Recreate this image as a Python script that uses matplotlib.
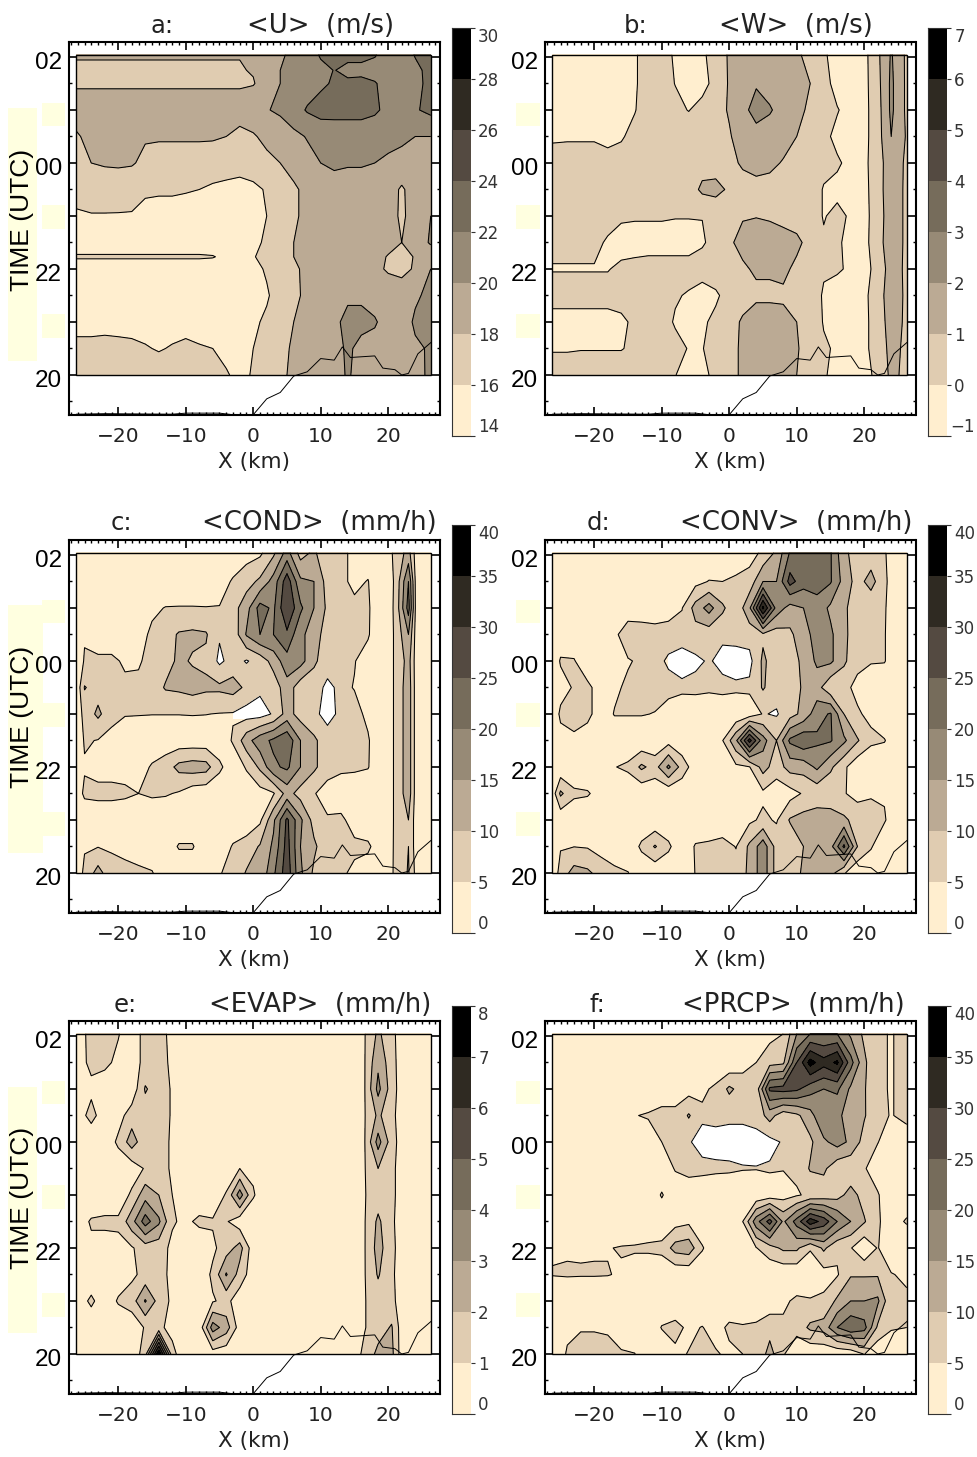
import numpy as np
import matplotlib
matplotlib.use("Agg")
import matplotlib.pyplot as plt
from matplotlib.colors import ListedColormap
from matplotlib.patches import Rectangle
from matplotlib.transforms import ScaledTranslation

W, H = 977, 1457

# hours after 20 UTC, top row first
T_STD = [6.04, 5.5, 5, 4.5, 4, 3.5, 3, 2.5, 2, 1.5, 1, 0.5, 0]
T_A = [6.04, 5.75, 5.5, 5, 4.5, 4, 3.5, 3, 2.5, 2.23, 2, 1.5, 1, 0.5, 0]
X_EVEN = [-26.2, -24, -22, -20, -18, -16, -14, -12, -10, -8, -6, -4, -2, 0, 2, 4, 6, 8, 10, 12, 14, 16, 18, 20, 22, 24, 26.3]
X_ODD = [-26.2, -25, -23, -21, -19, -17, -15, -13, -11, -9, -7, -5, -3, -1, 1, 3, 5, 7, 9, 11, 13, 15, 17, 19, 21, 23, 25, 26.3]
X_COND = [-26.2, -25, -23, -21, -19, -17, -15, -13, -11, -9, -7, -5, -3, -1, 1, 3, 5, 7, 9, 11, 13, 15, 17, 19, 21, 23, 24.2, 26.3]
X_EVAP = [-26.2, -24, -22, -20, -18, -16, -14, -12, -10, -8, -6, -4, -2, 0, 2, 4, 6, 8, 10, 12, 14, 16.5, 18.5, 20.5, 22, 24, 26.3]

TERRAIN_X = [-26.2, -22, -12, -10, -5, -3, 0, 2, 4, 6, 8, 10, 12, 13.2, 14.4, 18, 19.2, 21, 22, 23, 24.4, 26.3]
TERRAIN_T = [-0.74, -0.73, -0.74, -0.72, -0.72, -0.75, -0.75, -0.45, -0.33, -0.02, 0.06, 0.31, 0.28, 0.53, 0.33, 0.36, 0.13, 0.1, 0.0, 0.03, 0.4, 0.61]

U_DATA = [
    [18.05, 18.05, 18.05, 18.05, 18.05, 18.05, 18.05, 18.05, 18.05, 18.05, 18.05, 18.05, 18.05, 18.05, 19, 19.7, 20.5, 21, 22.2, 22.4, 22.4, 22.3, 22.1, 21.5, 21, 22.1, 22.6],
    [17.9, 17.9, 17.9, 17.9, 17.9, 17.9, 17.9, 17.9, 17.9, 17.9, 17.9, 17.9, 17.9, 18.1, 18.8, 20, 20.6, 21.2, 21.5, 22.05, 21.6, 21.7, 21.5, 21.3, 21, 21.6, 22.5],
    [17.8, 17.8, 17.8, 17.8, 17.8, 17.8, 17.8, 17.8, 17.8, 17.8, 17.8, 17.8, 17.8, 17.9, 18.7, 20, 20.5, 21, 21.7, 22.2, 22.3, 22.3, 22.1, 21.5, 21, 21.5, 22.5],
    [18.8, 18.8, 18.8, 18.8, 18.8, 18.8, 18.8, 18.8, 18.8, 18.8, 18.8, 18.8, 18.8, 19.2, 19.9, 20.3, 21, 22.2, 22.7, 22.7, 22.7, 22.7, 22.3, 21.5, 21, 21.8, 22.5],
    [17.8, 18.5, 18.6, 18.6, 18.6, 18.2, 18.2, 18.2, 18.2, 18.2, 18.2, 18, 17.5, 17.8, 18.5, 19, 19.6, 20.1, 20.7, 20.8, 20.8, 20.8, 20.8, 20.7, 20.3, 20, 20],
    [17.5, 18, 18.2, 18.3, 18.2, 17.5, 17.2, 17.2, 17.2, 17.2, 17, 16.9, 16.8, 17.2, 17.5, 18, 18.7, 19.5, 20, 20.4, 20.2, 20.2, 20, 19.6, 19.5, 19.7, 19.5],
    [16.8, 16.8, 16.8, 16.7, 16.5, 16.3, 16.2, 16.2, 16.1, 16, 15.7, 15.5, 15.3, 15.5, 16.2, 17, 17.7, 18.5, 19, 19, 19, 19, 19, 19, 17.7, 19, 19.8],
    [15.7, 15.9, 15.9, 15.9, 15.9, 15.4, 15.4, 15.4, 15.4, 15.4, 15.4, 15.4, 15.3, 15.5, 16, 17, 17.7, 18.5, 19, 19, 19, 19, 19, 19, 17.6, 19, 20],
    [15, 15, 15, 15, 15, 15, 15, 15, 15, 15, 15, 15, 15, 15.7, 16.2, 17, 18, 18.5, 18.6, 18.6, 18.6, 18.6, 18.6, 18.5, 18, 19, 20.2],
    [16.2, 16.2, 16.2, 16.2, 16.2, 16.2, 16.2, 16.2, 16.2, 16.2, 16.1, 15.6, 15.4, 15.9, 16.5, 17.2, 18, 18.6, 18.6, 18.6, 18.6, 18.6, 18.5, 17.9, 17.5, 18.1, 19],
    [15, 15, 15, 15, 15, 15, 15, 15, 15, 15, 15, 15, 15, 15.5, 16.2, 17, 17.7, 18.4, 18.4, 18.4, 18.4, 18.4, 18.4, 17.8, 17.5, 18.2, 20],
    [15, 15, 15, 15, 15, 15, 15, 15, 15, 15, 15, 15, 15, 15.5, 15.8, 16.8, 17.7, 18.3, 18.6, 19, 19.7, 19.7, 19.2, 19, 19, 19.7, 20.5],
    [15.5, 15.5, 15.5, 15.5, 15.5, 15.5, 15.5, 15.5, 15.5, 15.5, 15.5, 15.5, 15.5, 15.7, 16.3, 17.2, 18, 18.6, 19, 19.6, 20.5, 20.5, 20.2, 19.2, 19, 20.3, 20.7],
    [16.4, 16.4, 16.5, 16.4, 16.3, 16.1, 15.9, 16.1, 16.3, 16.1, 16, 15.7, 15.5, 16, 16.7, 17.6, 18.2, 18.5, 18.8, 19.3, 20.3, 19.5, 19.3, 19, 19, 19.7, 20.2],
    [16.7, 16.7, 16.7, 16.7, 16.7, 16.7, 16.7, 16.7, 16.7, 16.7, 16.6, 16.1, 15.7, 16.1, 17, 17.8, 18.2, 18.3, 18.5, 18.8, 20.3, 19, 18.5, 18.2, 18.2, 19.5, 20.3],
]

W_DATA = [
    [-.5, -.5, -.5, -.5, -.5, -.5, -.1, .4, .3, -.1, -.5, -.2, .5, 1.1, 1.3, 1.5, 1.5, 1.5, 1.2, .6, .1, -.3, -.5, -.3, .8, 2.1, .8],
    [-.5, -.5, -.5, -.5, -.5, -.5, -.1, .4, .3, -.02, -.5, -.3, .3, 1.1, 1.3, 1.9, 1.6, 1.5, 1.2, 1, .3, -.3, -.3, -.3, .7, 2.2, .8],
    [-.5, -.5, -.5, -.5, -.5, -.2, -.05, .5, .4, .2, -.03, .3, .6, 1.1, 1.7, 2.4, 2.1, 1.6, 1.3, .8, .2, .05, -.3, -.3, .6, 2.2, .8],
    [-.1, -.1, -.1, -.1, -.3, -.1, .3, .5, .5, .5, .5, .9, .6, .9, 1.5, 1.6, 1.5, 1.5, 1, .7, .2, -.2, -.3, -.3, .6, 2, .9],
    [.3, .4, .4, .4, .4, .4, .4, .5, .5, .5, .5, .6, .7, .8, 1.1, 1.5, 1.3, .9, .6, .5, .2, .1, -.2, -.2, .5, 1.7, .8],
    [.5, .5, .5, .5, .5, .5, .5, .5, .5, .5, .5, 1.2, 1.2, .9, .7, .5, .5, .5, .5, .4, -.05, -.2, -.2, -.3, .6, 1.6, .8],
    [.4, .4, .4, .4, .3, .15, .1, .1, .1, .05, .05, .02, .5, .9, .95, .97, .9, .7, .6, .4, -.05, .2, -.1, -.3, .5, 1.6, .8],
    [.2, .2, .2, .2, -.1, -.4, -.4, -.4, -.4, -.4, -.4, -.1, .3, .9, 1.2, 1.4, 1.4, 1.4, 1.2, .7, .1, .05, -.1, -.3, .6, 1.6, .8],
    [-.05, -.05, -.05, -.05, -.05, .2, .3, .4, .4, .4, .4, .4, .7, .8, .9, 1.1, 1.1, 1.2, .8, .5, .1, .08, -.1, -.3, .3, 1.5, .8],
    [.4, .4, .4, .4, .4, .4, .5, .5, .4, .1, -.1, -.4, -.2, .5, .7, .85, .85, .85, .8, .5, -.1, -.3, -.4, -.2, .5, 1.6, .8],
    [-.4, -.4, -.4, -.4, -.4, -.2, .2, .5, .4, -.1, -.4, -.2, .3, .7, 1.1, 1.4, 1.4, 1.3, 1, .5, -.05, -.3, -.3, -.2, .4, 1.5, .8],
    [-.1, -.1, -.05, -.05, -.05, -.05, .2, .5, .5, .3, -.05, -.05, .5, .8, 1.1, 1.3, 1.4, 1.4, 1.1, .5, .1, -.1, -.2, -.2, .4, 1.3, .8],
    [.6, .6, .6, .6, .6, .6, .6, .6, .5, .02, -.3, -.2, .2, .8, 1.1, 1.3, 1.3, 1.3, 1, .6, .1, -.3, -.4, -.4, .3, 1.2, .8],
]

COND_DATA = [
    [1, 1, 1, 1, 1, 1, 1, 1, 1, 1, 1, 1, 2, 3, 4, 9, 17, 8, 11, 5.5, 6, 4, 2.5, 1, 6, 12, 2, 1],
    [1, 1, 1, 1, 1, 1, 1, 1, 1, 1, 1, 3, 5.5, 8, 11, 17, 28, 16, 15, 8, 6, 4, 5.2, 1, 5.5, 20, 2, 1],
    [1, 1, 1, 1, 1, 1, 4, 5.2, 5.3, 5.3, 5.2, 5.2, 8, 13, 22, 19, 30, 21, 15, 9, 7, 6, 5.5, 2, 5.5, 22, 2, 1],
    [1, 4.5, 2, 2, 2, 3, 6, 8, 10.5, 11, 10.5, 5.5, 6.5, 15.5, 20, 20, 24, 16, 13, 7, 6.5, 6, 5.5, 1, 5.5, 15, 2, 1],
    [1, 5.5, 6, 6, 4.3, 4.5, 6.5, 8, 11, 9.5, 9, 4, 7, 4.6, 7, 12, 18, 17, 11, 7, 6, 5.2, 3, 1, 5.5, 12, 2, 1],
    [1, 10.3, 8, 6, 6, 6, 7, 10.5, 11, 12, 11, 11, 12, 9, 6, 7, 13, 7, 7, 4, 6, 4.8, 2, 1, 5.5, 13, 2, 1],
    [1, 7, 11, 7, 5.3, 5.2, 5.1, 5.1, 5.1, 5.2, 5.1, 4.8, 4.6, 3, 3, 5.5, 12, 8, 6, 3.5, 6, 6.5, 4, 1, 5.5, 13, 2, 1],
    [1, 5.5, 4.8, 3, 2, 2, 2, 2, 2, 2, 2, 2, 5.5, 13, 18, 21, 24, 15, 11, 7, 5.3, 5.1, 5.5, 1, 5.5, 13, 2, 1],
    [1, 4.5, 3, 3, 3, 3, 5.5, 7.5, 11.5, 12.5, 12, 6, 2, 5.5, 11, 19, 21, 15, 11, 7, 6, 6, 5.3, 1, 5.5, 13, 2, 1],
    [2, 6, 6.5, 6.5, 6, 5, 5.8, 5.5, 4.5, 2, 1.5, 1.5, 1.5, 2, 3, 4.5, 12, 8, 5.3, 3, 2, 1, 1, 1, 5.5, 13, 2, 1],
    [1, 1, 1, 1, 1, 1, 1, 1, 1, 1, 1, 1, 1, 2, 4, 14, 26, 16, 8, 5.5, 6, 3, 1, 1, 5.5, 10, 2, 1],
    [1, 4.6, 4.8, 4.5, 4, 3, 2, 2, 5.5, 5.5, 1, 1.5, 5.5, 7, 10.5, 16, 27, 15, 11, 6.5, 7, 6, 6, 1.5, 5.5, 10, 2, 1],
    [2, 6, 12, 6.5, 6, 5.8, 5.3, 2, 1, 1, 4.8, 4.8, 6, 10.5, 11, 19, 28, 16, 9, 5.5, 5.8, 4, 2, 2, 5.5, 10.5, 3, 1],
]

CONV_DATA = [
    [1, 1, 1, 1, 1, 1, 1, 1, 1, 1, 1, 1, 1, 1, 1.5, 3, 6, 11, 20.5, 21.5, 22, 20.5, 11, 8, 7, 5.5, 1, 1],
    [1, 1, 1, 1, 1, 1, 1, 1, 1, 1, 1, 3.5, 5.2, 5, 6, 7, 15, 15, 27, 22, 22, 20.5, 13, 8, 12, 6, 1, 1],
    [1, 1, 1, 1, 1, 1, 1, 1, 2, 3, 4.8, 12, 17, 11, 6, 14, 36, 18, 13, 15, 18, 14, 11, 7, 6, 5.5, 1, 1],
    [1, 2, 2, 2, 2, 3.5, 9, 8.5, 7, 7, 7, 8, 7, 6, 7, 7, 9, 7.5, 9, 13, 17, 16, 11, 7.5, 6, 5.3, 1, 1],
    [1, 5.5, 5.3, 2, 2, 2.5, 4.5, 6, 6.5, 4.3, 3, 4, 5.5, 3.5, 2.5, 3.5, 11, 7, 8, 11, 16, 16, 11, 6, 5.5, 5.3, 1, 1],
    [1, 3, 5.5, 6, 3, 4, 6, 7, 7, 6.5, 6, 6.5, 6, 6.5, 6, 6, 10.5, 7, 8, 10.5, 12, 6, 6, 4, 1, 1, 1, 1],
    [1, 6, 7, 6.5, 2, 5.3, 5.3, 5.3, 4.8, 3, 2, 1, 1, 1, 1, 2, 5.3, 4.5, 8, 11.5, 18, 20.5, 10, 5.5, 4, 1, 1, 1],
    [1, 3, 4, 2, 1, 1, 1, 1, 1, 3, 1, 1, 1, 4.8, 14, 32, 17, 10, 21, 24, 21, 20.5, 16, 10.5, 6, 5.3, 1, 1],
    [1, 1, 1, 1, 1, 4.8, 6, 11, 8, 16, 8, 2, 1, 2, 4, 4.8, 12, 7.5, 12, 12, 16, 11, 6, 1.5, 1, 1, 1, 1],
    [2, 11, 6, 5.5, 3, 1, 1, 1, 1, 1, 1, 1, 1, 1, 2, 3, 4, 2, 3, 5.5, 6.5, 6, 5.3, 3.5, 4.5, 4.5, 1, 1],
    [1, 1, 1, 1, 1, 1, 1, 1, 1, 1, 1, 1, 1, 1, 2, 4, 6, 4.5, 10.5, 12, 13, 13, 11, 8, 7, 5.5, 1, 1],
    [1, 4.6, 4.9, 4.6, 3, 1, 1, 6, 10.5, 6, 1, 5.5, 6, 7, 4.8, 11, 18, 8, 6, 10, 12, 13, 26, 10, 5.5, 1, 1, 1],
    [1, 7, 12, 11, 8, 6.5, 5.2, 1, 1, 1, 1, 5.2, 6, 6.5, 7, 11, 18, 8, 6.5, 11, 14, 12, 5.5, 1, 1, 1, 1, 1],
]

EVAP_DATA = [
    [.5, 1.3, 1.2, 1.05, .5, 1.3, 1.4, .7, .3, .3, .3, .3, .3, .3, .3, .3, .3, .3, .3, .3, .3, .95, 2.2, 1.3, .5, .3, .3],
    [.6, 1.2, 1.2, .8, .5, 1.3, 1.4, .8, .3, .3, .3, .3, .3, .3, .3, .3, .3, .3, .3, .3, .3, .95, 2.8, 1.4, .5, .3, .3],
    [.5, .8, .5, .3, .3, 2.1, 1.5, .9, .3, .3, .3, .3, .3, .3, .3, .3, .3, .3, .3, .3, .3, .95, 3.3, 1.5, .5, .3, .3],
    [.5, 1.3, .5, .6, 1.5, 1.5, 1.5, .9, .3, .3, .3, .3, .3, .3, .3, .3, .3, .3, .3, .3, .3, .95, 2.2, 1.3, .5, .3, .3],
    [.3, .3, .3, 1.2, 2.5, 1.3, 1.3, .9, .3, .3, .3, .3, .3, .3, .3, .3, .3, .3, .3, .3, .3, .95, 3.4, 1.5, .5, .3, .3],
    [.3, .3, .3, .3, .4, 1.1, 1.3, .9, .3, .3, .3, .3, 1, .8, .3, .3, .3, .3, .3, .3, .3, .95, 2, 1.3, .5, .3, .3],
    [.3, .3, .3, .3, 1.2, 2.6, 2, 1, .3, .3, .3, 1.1, 3.5, 1.1, .3, .3, .3, .3, .3, .3, .3, .95, 1.5, 1.3, .5, .3, .3],
    [.5, 1.1, 1.2, 1.2, 2.6, 4.5, 3.2, 1.1, .8, 1.2, 1.1, 1.1, .4, .3, .3, .3, .3, .3, .3, .3, .3, .95, 2.2, 1.2, .5, .3, .3],
    [.5, .8, .6, .7, .9, 1.5, 1.4, .8, .3, .3, .8, 1.5, 2.4, .4, .3, .3, .3, .3, .3, .3, .3, .95, 2.4, 1.3, .5, .3, .3],
    [.3, .3, .3, .5, .8, 1.3, 1.3, .8, .3, .3, 1.2, 3.1, 1.6, .4, .3, .3, .3, .3, .3, .3, .3, .95, 2.1, 1.2, .5, .3, .3],
    [.4, 1.2, .4, 1.1, 1.5, 3.1, 1.6, .8, .3, .3, .9, 1.3, .4, .3, .3, .3, .3, .3, .3, .3, .3, .95, 1.5, 1.3, .5, .3, .3],
    [.3, .3, .3, .3, .3, 1.1, 1.2, .7, .3, .3, 3.5, 2.5, .5, .3, .3, .3, .3, .3, .3, .3, .3, .95, 1.5, 2.1, .5, .3, .3],
    [.3, .3, .3, .3, .3, 1.5, 8, 1.3, .3, .3, .5, .3, .3, .3, .3, .3, .3, .3, .3, .3, .3, 1.2, 2.3, 2.3, .5, .3, .3],
]

PRCP_DATA = [
    [1, 1, 1, 1, 1, 1, 1, 1, 1, 1, 1, 1, 1, 1, 1, 2, 3.5, 5, 15, 20, 20, 20, 14, 9, 5.5, 4.8, 6],
    [1, 1, 1, 1, 1, 1, 1, 1, 1, 1, 1, 1, 1, 1, 3, 5, 8, 9, 25, 37, 32, 36, 22, 11, 5.5, 4.8, 6],
    [1, 1, 1, 1, 1, 1, 1, 1, 3, 3, 3, 4, 6, 11, 8, 7, 26, 27, 26, 22, 20, 21, 14, 10.5, 5.5, 4.8, 6],
    [1, 1, 1, 1, 1, 1, 4.8, 5.5, 6, 6, 10.5, 6, 6.5, 6, 6, 7, 12, 7, 9, 13, 20, 16, 13, 10.5, 6, 4.8, 6],
    [1, 1, 1, 1, 1, 1, 1, 2, 5, 6, 5.5, 3, 3, 3, 3, 3, 3.5, 5.5, 6.5, 9, 14, 17, 14, 8, 5.2, 2, 3],
    [1, 1, 1, 1, 1, 1, 1, 1, 1, 5.5, 7, 6.5, 6, 5.8, 5.3, 5.2, 5.6, 5.2, 6, 10.5, 11, 6.5, 6, 5.5, 2, 1, 1],
    [1, 1, 1, 1, 1, 1, 1, 1, 5.5, 1, 1, 1, 1, 1, 1, 1, 2, 3, 4.5, 6, 7, 8, 12, 8, 5.5, 1, 2],
    [1, 1, 1, 1, 1, 1, 1, 1, 1, 3, 4, 1, 1, 1, 5, 18, 27, 14, 22, 33, 28, 20, 15, 10.5, 5.5, 3, 5.5],
    [4.6, 4.6, 4.6, 4.7, 4.8, 5.3, 5.5, 6, 6.5, 12, 13, 5.5, 1, 1, 1, 4.8, 8, 11, 11, 5.5, 11, 6, 5.3, 1, 5.3, 1, 1],
    [5.2, 5.4, 5.3, 5.3, 5.2, 4.5, 3, 1, 1, 1, 1, 1, 1, 1, 1, 1, 1, 1, 1, 1, 3, 4.5, 9.5, 9.5, 9.5, 5.3, 4],
    [1, 1, 1, 1, 1, 1, 1, 1, 1, 1, 1, 1, 1, 1, 1, 1, 2, 4, 6, 5.5, 6, 11, 15, 15, 16, 5.5, 6],
    [1, 4, 4.8, 4.8, 4.6, 3.5, 2, 1, 5.3, 6.5, 4, 5.2, 3, 6, 5.5, 6, 8, 6, 7, 11, 12, 20, 24, 22, 9, 5.5, 5],
    [1, 5.5, 6, 6, 6, 5.3, 5.1, 1, 1, 4, 5.2, 5.3, 5.5, 4, 5, 5.5, 12, 5.5, 1, 1, 1, 1, 1.5, 5.2, 1, 1, 1],
]

LEVELS_U = [14, 16, 18, 20, 22, 24, 26, 28, 30]
LEVELS_W = [-1, 0, 1, 2, 3, 4, 5, 6, 7]
LEVELS_MM = [0, 5, 10, 15, 20, 25, 30, 35, 40]
LEVELS_E = [0, 1, 2, 3, 4, 5, 6, 7, 8]

BAND_COLORS = ["#FFEECF", "#E0CCB1", "#BBAA94", "#978A76", "#766C5B", "#544A41", "#2F2A22", "#000000"]
YELLOW = "#FFFFE0"

# areas under the first contour that the original left unfilled (x0, x1, t0, t1)
HOLES_C = [(-6, -3.5, 3.9, 4.5), (-2, 0, 3.8, 4.5), (-3, 4, 2.9, 3.5), (9.5, 13, 2.8, 4)]
HOLES_D = [(-9, -3, 3.5, 4.6), (-2.2, 4, 3.5, 4.6), (6, 9, 2.8, 3.4)]
HOLES_F = [(-6, 8.5, 3.5, 4.6)]

PANELS = [
    dict(name="a:", title="<U>  (m/s)", x=X_EVEN, t=T_A, z=U_DATA, levels=LEVELS_U, holes=[], left=69, top=42, cbtop=28,
         name_x=162, title_x=321, title_y=26),
    dict(name="b:", title="<W>  (m/s)", x=X_EVEN, t=T_STD, z=W_DATA, levels=LEVELS_W, holes=[], left=545, top=42, cbtop=28,
         name_x=636, title_x=796, title_y=26),
    dict(name="c:", title="<COND>  (mm/h)", x=X_COND, t=T_STD, z=COND_DATA, levels=LEVELS_MM, holes=HOLES_C, left=69, top=540, cbtop=525,
         name_x=121, title_x=319, title_y=523),
    dict(name="d:", title="<CONV>  (mm/h)", x=X_ODD, t=T_STD, z=CONV_DATA, levels=LEVELS_MM, holes=HOLES_D, left=545, top=540, cbtop=525,
         name_x=598, title_x=796, title_y=523),
    dict(name="e:", title="<EVAP>  (mm/h)", x=X_EVAP, t=T_STD, z=EVAP_DATA, levels=LEVELS_E, holes=[], left=69, top=1021, cbtop=1006,
         name_x=125, title_x=320, title_y=1005),
    dict(name="f:", title="<PRCP>  (mm/h)", x=X_EVEN, t=T_STD, z=PRCP_DATA, levels=LEVELS_MM, holes=HOLES_F, left=545, top=1021, cbtop=1006,
         name_x=597, title_x=793, title_y=1005),
]

# left column: big strip plus three small ones, right column: three small ones
YELLOW_BOXES = [
    (8, 108, 29, 253), (42, 103, 23, 23), (42, 205, 23, 24), (42, 314, 23, 24),
    (516, 103, 24, 23), (516, 205, 24, 24), (516, 314, 24, 24),
    (8, 605, 35, 248), (42, 600, 23, 23), (42, 703, 23, 24), (42, 812, 23, 24),
    (516, 600, 24, 23), (516, 703, 24, 24), (516, 812, 24, 24),
    (8, 1087, 29, 246), (42, 1081, 23, 23), (42, 1185, 23, 24), (42, 1293, 23, 24),
    (516, 1081, 24, 23), (516, 1185, 24, 24), (516, 1293, 24, 24),
]
TIME_LABEL_Y = [220, 717, 1198]

fig = plt.figure(figsize=(W / 100, H / 100), dpi=100)
cmap = ListedColormap(BAND_COLORS)


def px_axes(left, top, width, height):
    return fig.add_axes([left / W, 1 - (top + height) / H, width / W, height / H])


def nudge(label, dx, dy):
    # shift a tick label by some pixels
    label.set_transform(label.get_transform() + ScaledTranslation(dx / 100, dy / 100, fig.dpi_scale_trans))


for box in YELLOW_BOXES:
    fig.add_artist(Rectangle((box[0] / W, 1 - (box[1] + box[3]) / H), box[2] / W, box[3] / H,
                             transform=fig.transFigure, color=YELLOW, lw=0, zorder=-1))

for p in PANELS:
    ax = px_axes(p["left"], p["top"], 370.5, 373)
    x = np.array(p["x"])
    t = np.array(p["t"])
    z = np.array(p["z"])
    ax.contourf(x, t, z, levels=p["levels"], colors=BAND_COLORS)
    for hole in p["holes"]:
        cs = ax.contourf(x, t, z, levels=[z.min() - 1, p["levels"][1]], colors="white")
        cs.set_clip_path(Rectangle((hole[0], hole[2]), hole[1] - hole[0], hole[3] - hole[2], transform=ax.transData))
    ax.contour(x, t, z, levels=p["levels"][1:], colors="black", linewidths=0.75)
    ax.add_patch(Rectangle((x[0], 0), x[-1] - x[0], t[0], fill=False, ec="black", lw=1))
    ax.plot(TERRAIN_X, TERRAIN_T, color="black", lw=0.7)

    ax.set_xlim(-27.3, 27.6)
    ax.set_ylim(-0.755, 6.283)
    ax.set_xticks([-20, -10, 0, 10, 20])
    ax.set_xticks(np.arange(-27, 28), minor=True)
    ax.set_yticks([0, 1, 2, 3, 4, 5, 6])
    ax.set_yticklabels(["20", "", "22", "", "00", "", "02"], family="Liberation Sans", fontsize=17.5)
    ax.set_yticks(np.arange(-0.5, 6.5, 1), minor=True)
    ax.tick_params(which="major", direction="in", top=True, right=True, length=5.5, width=1.2)
    ax.tick_params(which="minor", direction="in", top=True, right=True, length=2.5, width=1)
    ax.tick_params(axis="y", which="major", length=5.5, pad=5)
    ax.tick_params(axis="x", labelsize=14.5, pad=8.5, labelcolor="#222222")
    for label in ax.get_yticklabels():
        nudge(label, 0, -4)
    for spine in ax.spines.values():
        spine.set_linewidth(1.5)
    ax.set_xlabel("X (km)", fontsize=15.5, color="#222222", labelpad=4.5)

    fig.text(p["name_x"] / W, 1 - p["title_y"] / H, p["name"], ha="center", va="center", fontsize=17.5, color="#222222")
    fig.text(p["title_x"] / W, 1 - p["title_y"] / H, p["title"], ha="center", va="center", fontsize=18.7, color="#222222")

    cax = px_axes(p["left"] + 383, p["cbtop"], 18.5, 408)
    cax.pcolormesh([0, 1], p["levels"], np.arange(8).reshape(-1, 1), cmap=cmap, vmin=0, vmax=7)
    cax.set_xticks([])
    cax.yaxis.tick_right()
    cax.set_yticks(p["levels"])
    cax.set_yticklabels([str(v).replace("-", "\u2212") for v in p["levels"]], fontsize=12, color="#333333")
    cax.tick_params(axis="y", direction="out", length=3, width=0.8, pad=2.5, color="#333333")
    labels = cax.get_yticklabels()
    labels[0].set_va("bottom")
    labels[-1].set_va("top")
    if p["levels"][0] < 0:
        nudge(labels[0], -4, 0)
    cax.spines["right"].set_visible(False)
    for side in ["left", "top", "bottom"]:
        cax.spines[side].set_linewidth(0.8)
        cax.spines[side].set_color("#333333")

for y in TIME_LABEL_Y:
    fig.text(22 / W, 1 - y / H, "TIME (UTC)", rotation=90, ha="center", va="center",
             family="Liberation Sans", fontsize=19, color="black")

fig.savefig("out.png", dpi=100)
